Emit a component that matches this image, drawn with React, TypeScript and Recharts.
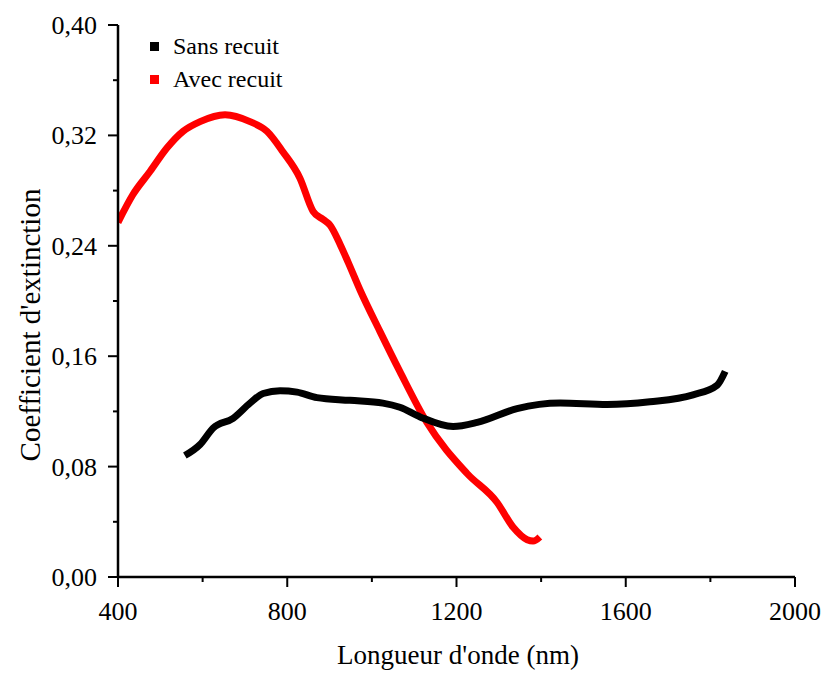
import { LineChart, Line, XAxis, YAxis, Legend } from "recharts";

// Wavelength (nm) and extinction coefficient k for each film
const sansRecuitNm = [558, 594, 625, 672, 712, 743, 783, 823, 870, 948, 1026, 1066, 1114, 1192, 1249, 1343, 1445, 1556, 1657, 1759, 1816, 1835];
const sansRecuitK = [0.088, 0.096, 0.108, 0.115, 0.126, 0.133, 0.135, 0.134, 0.13, 0.128, 0.126, 0.123, 0.116, 0.109, 0.112, 0.122, 0.126, 0.125, 0.127, 0.132, 0.139, 0.149];

const avecRecuitNm = [400, 435, 476, 516, 554, 594, 653, 712, 752, 790, 830, 861, 885, 901, 925, 944, 972, 1019, 1066, 1130, 1225, 1296, 1334, 1367, 1381, 1397];
const avecRecuitK = [0.257, 0.277, 0.294, 0.311, 0.323, 0.33, 0.335, 0.33, 0.323, 0.308, 0.289, 0.265, 0.259, 0.255, 0.241, 0.228, 0.208, 0.178, 0.149, 0.112, 0.075, 0.054, 0.036, 0.027, 0.026, 0.029];

const seriesNames = ["Sans recuit", "Avec recuit"];

const xTicks = [400, 600, 800, 1000, 1200, 1400, 1600, 1800, 2000];
const yTicks = [0, 0.04, 0.08, 0.12, 0.16, 0.2, 0.24, 0.28, 0.32, 0.36, 0.4];

const sansRecuit = sansRecuitNm.map((nm, i) => ({ nm, k: sansRecuitK[i] }));
const avecRecuit = avecRecuitNm.map((nm, i) => ({ nm, k: avecRecuitK[i] }));

const FONT = "'Liberation Serif', 'Times New Roman', serif";

function XTick({ x, y, payload }: any) {
  const major = payload.value % 400 === 0;
  return (
    <g>
      <line x1={x} x2={x} y1={y} y2={y + (major ? 10 : 5)} stroke="#000" strokeWidth={2} />
      {major && (
        <text x={x} y={y + 43} textAnchor="middle" fontSize={26} style={{ fontFamily: FONT }} fill="#000">
          {payload.value}
        </text>
      )}
    </g>
  );
}

function YTick({ x, y, payload }: any) {
  const major = Math.round(payload.value * 100) % 8 === 0;
  return (
    <g>
      <line x1={x - (major ? 10 : 5)} x2={x} y1={y} y2={y} stroke="#000" strokeWidth={2} />
      {major && (
        <text x={x - 21} y={y + 9} textAnchor="end" fontSize={26} style={{ fontFamily: FONT }} fill="#000">
          {payload.value.toFixed(2).replace(".", ",")}
        </text>
      )}
    </g>
  );
}

function LegendBox({ payload }: any) {
  const items = [...(payload || [])].sort(
    (a: any, b: any) => seriesNames.indexOf(a.value) - seriesNames.indexOf(b.value)
  );
  return (
    <svg width={200} height={70}>
      {items.map((p: any, i: number) => (
        <g key={p.value}>
          <rect x={10} y={12 + i * 33} width={9} height={9} fill={p.color} />
          <text x={33} y={24 + i * 33} fontSize={24} style={{ fontFamily: FONT }} fill="#000">
            {p.value}
          </text>
        </g>
      ))}
    </svg>
  );
}

export default function App() {
  return (
    <div style={{ position: "absolute", left: 0, top: 0, width: 825, height: 675, background: "#fff", fontFamily: FONT }}>
      <LineChart width={825} height={675} margin={{ top: 25, right: 30, left: 0, bottom: 0 }}>
        <XAxis
          dataKey="nm"
          type="number"
          domain={[400, 2000]}
          ticks={xTicks}
          height={98}
          tickSize={0}
          tickMargin={0}
          tickLine={false}
          tick={<XTick />}
          axisLine={{ stroke: "#000", strokeWidth: 2.5 }}
          allowDataOverflow
        />
        <XAxis
          xAxisId="top"
          orientation="top"
          type="number"
          domain={[400, 2000]}
          height={0}
          tick={false}
          tickLine={false}
          axisLine={{ stroke: "#000", strokeWidth: 2.5 }}
        />
        <YAxis
          type="number"
          domain={[0, 0.4]}
          ticks={yTicks}
          width={118}
          tickSize={0}
          tickMargin={0}
          tickLine={false}
          tick={<YTick />}
          axisLine={{ stroke: "#000", strokeWidth: 2.5 }}
          allowDataOverflow
        />
        <YAxis
          yAxisId="right"
          orientation="right"
          type="number"
          domain={[0, 0.4]}
          width={0}
          tick={false}
          tickLine={false}
          axisLine={{ stroke: "#000", strokeWidth: 2.5 }}
        />
        <Legend
          layout="horizontal"
          verticalAlign="middle"
          align="center"
          content={<LegendBox />}
          wrapperStyle={{ top: 30, left: 140, width: 200, height: 70 }}
        />
        <Line
          data={avecRecuit}
          dataKey="k"
          name="Avec recuit"
          type="monotone"
          stroke="#ff0000"
          strokeWidth={7}
          dot={false}
          isAnimationActive={false}
        />
        <Line
          data={sansRecuit}
          dataKey="k"
          name="Sans recuit"
          type="monotone"
          stroke="#000000"
          strokeWidth={7}
          dot={false}
          isAnimationActive={false}
        />
      </LineChart>
      <div
        style={{
          position: "absolute",
          left: 318,
          top: 640,
          width: 280,
          textAlign: "center",
          fontSize: 27,
          whiteSpace: "nowrap",
        }}
      >
        Longueur d'onde (nm)
      </div>
      <svg style={{ position: "absolute", left: 0, top: 0 }} width={60} height={675}>
        <text
          transform="translate(40, 325) rotate(-90)"
          textAnchor="middle"
          fontSize={29}
          style={{ fontFamily: FONT }}
          fill="#000"
        >
          Coefficient d'extinction
        </text>
      </svg>
    </div>
  );
}
